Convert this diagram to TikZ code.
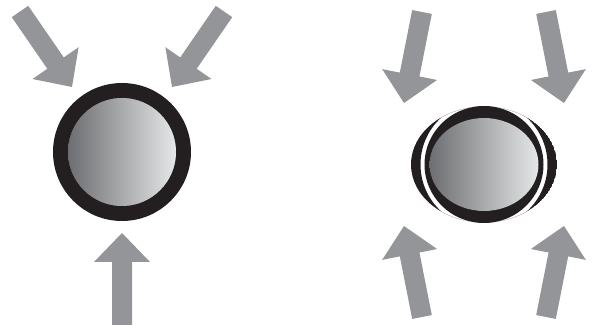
\documentclass[tikz,border=0pt]{standalone}
\usetikzlibrary{calc}
\definecolor{ArrowGray}{HTML}{939598}
\definecolor{RingBlack}{HTML}{231F20}
\definecolor{ShadeDark}{HTML}{6D6E71}
\definecolor{ShadeMid}{HTML}{B3B5B8}
\definecolor{ShadeLight}{HTML}{E6E7E8}
\tikzset{ball/.style={left color=ShadeDark,middle color=ShadeMid,right color=ShadeLight},
  push/.style={fill=ArrowGray}}
% block arrow from tail point to tip point
\newcommand{\pusharrow}[2]{%
  \coordinate (tail) at (#1);\coordinate (tip) at (#2);
  \coordinate (base) at ($(tip)!29pt!(tail)$);
  \fill[push]($(tail)!10pt!90:(tip)$)--($(base)!10pt!90:(tip)$)--($(base)!28pt!90:(tip)$)--(tip)
    --($(base)!28pt!-90:(tip)$)--($(base)!10pt!-90:(tip)$)--($(tail)!10pt!-90:(tip)$)--cycle;}

\begin{document}
\begin{tikzpicture}[x=1pt,y=1pt]
      \useasboundingbox(0,0)rectangle(592,329);
      % round ball
      \draw[RingBlack,line width=15pt](122,177)circle(61.5);
      \fill[ball](122,177)circle(54);
      % squeezed ball
      \begin{scope}
        \clip(484,164.5)ellipse(73 and 58);
        \fill[RingBlack,even odd rule](484,164.5)ellipse(73 and 58)circle(63.5);
      \end{scope}
      \fill[RingBlack](484,164.5)ellipse(59.5 and 58.5);
      \fill[ball](484,164.5)ellipse(54.5 and 46.5);
      \foreach \tx/\ty/\hx/\hy in {20/317.5/72/242,224/317.5/172/242,122/4/122/96,
        422/317/404/226,546/317/564/226,422/12/404/103,546/12/564/103}
        {\pusharrow{\tx,\ty}{\hx,\hy}}
    \end{tikzpicture}
\end{document}
